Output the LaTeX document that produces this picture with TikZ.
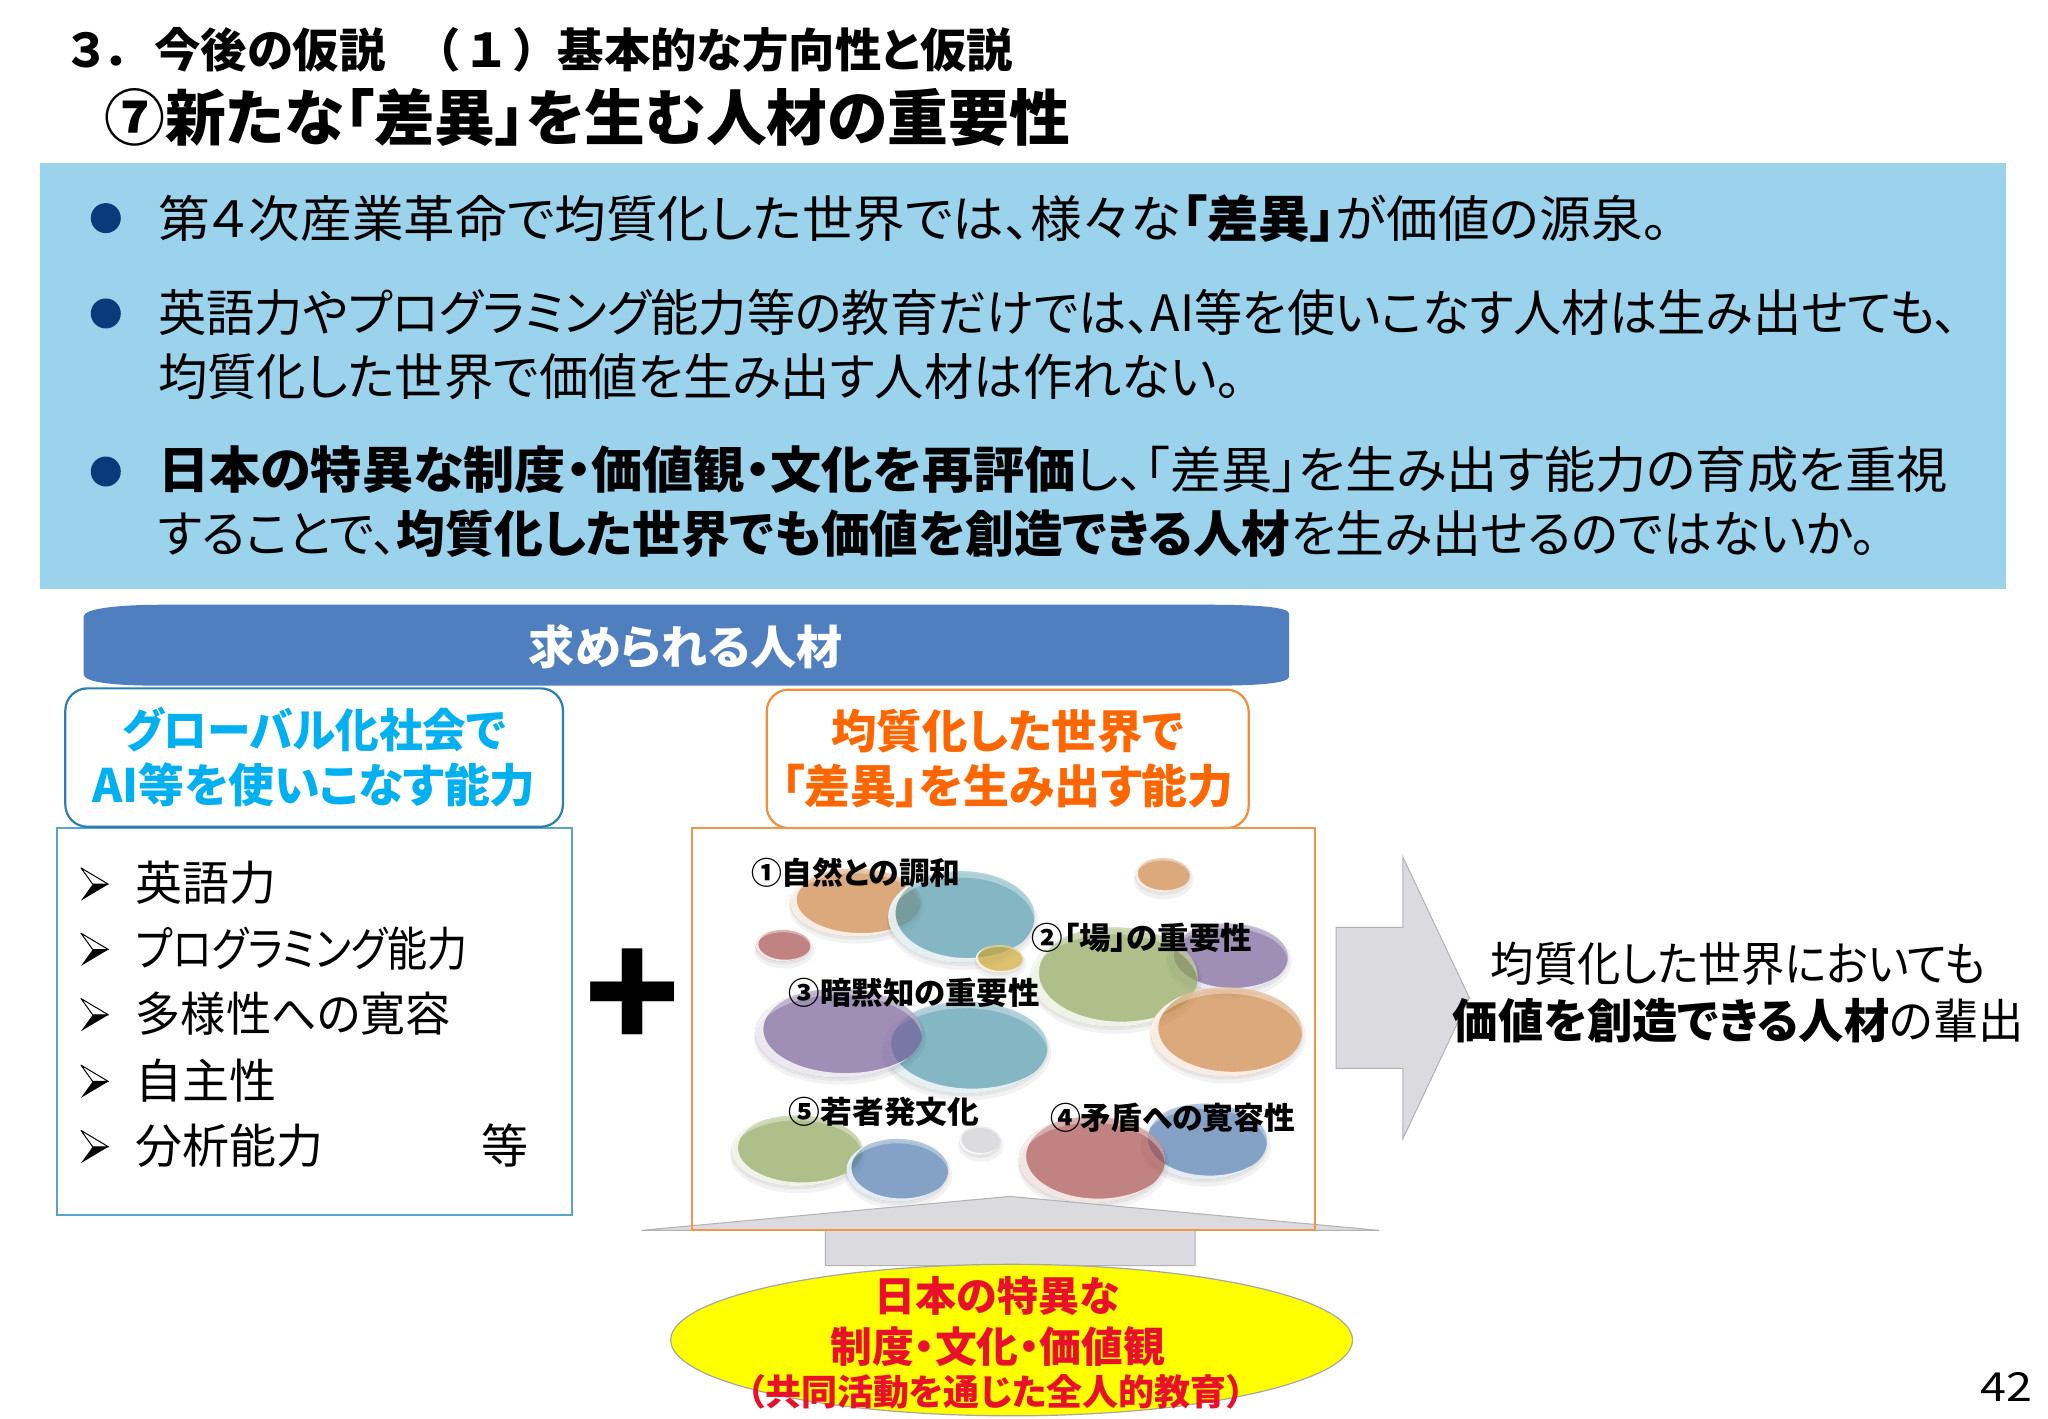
\documentclass[tikz,border=0pt]{standalone}
\usepackage{fontspec}
\usepackage{graphicx}
\usetikzlibrary{shapes.geometric}
\setmainfont{Noto Sans CJK JP}[RawFeature={+palt}]
\newcommand{\fs}[2]{\fontsize{#1}{#2}\selectfont}
\newcommand{\sx}[2]{\scalebox{#1}[1]{#2}}
\definecolor{bandblue}{HTML}{9BD3EC}
\definecolor{navy}{HTML}{0A3A7A}
\definecolor{barblue}{HTML}{4F7FBE}
\definecolor{cyantext}{HTML}{00B0F0}
\definecolor{orangetext}{HTML}{FF6600}
\definecolor{boxorange}{HTML}{F0954A}
\definecolor{capblue}{HTML}{2A7FB0}
\definecolor{boxblue}{HTML}{5BA3C9}
\definecolor{arrowgray}{HTML}{DADADF}
\definecolor{redtext}{HTML}{E8102A}
\definecolor{pureyellow}{HTML}{FFFF00}
\definecolor{bo}{HTML}{D78A47}
\definecolor{bt}{HTML}{529FB3}
\definecolor{br}{HTML}{AF514E}
\definecolor{bg}{HTML}{93AC5B}
\definecolor{bp}{HTML}{7C629F}
\definecolor{bb}{HTML}{5280B5}
\definecolor{bw}{HTML}{D8D8DC}
\definecolor{by}{HTML}{D7AF34}
\newcommand{\blob}[5]{%
  \fill[black,opacity=.05] (#1+1,#2+3.5) ellipse [x radius=#3+2,y radius=#4+2];
  \fill[black,opacity=.05] (#1+.5,#2+2) ellipse [x radius=#3+.5,y radius=#4+.5];
  \fill[#5,opacity=.66] (#1,#2) ellipse [x radius=#3,y radius=#4];
  \begin{scope}
    \clip (#1,#2) ellipse [x radius=#3,y radius=#4];
    \fill[white,opacity=.35,even odd rule] (#1-#3-5,#2-#4-5) rectangle (#1+#3+5,#2+#4+5)
      (#1,#2+.14*#4) ellipse [x radius=#3,y radius=#4];
    \fill[white,opacity=.8,even odd rule] (#1-#3-5,#2-#4-5) rectangle (#1+#3+5,#2+#4+5)
      (#1+.085*#3,#2-.085*#4) ellipse [x radius=.985*#3,y radius=.985*#4];
  \end{scope}
}
\newcommand{\tickmark}[1]{%
  \draw[black,fill=white,line width=.5pt,line join=round] (62,#1-12.5) -- (83,#1) -- (71,#1) -- cycle;
  \fill[black] (62,#1+12.5) -- (83,#1) -- (71,#1) -- cycle;
}
\tikzset{
  x=0.6531pt,y=-0.6531pt,
  plain/.style={inner sep=0pt,outer sep=0pt},
  para/.style={plain,anchor=west,align=left,font=\fs{25}{32}},
  bulletdot/.style={circle,fill=navy,minimum size=15pt,plain},
  capbox/.style={rounded corners=11pt,line width=1.1pt,fill=white,plain,align=center,font=\fs{23}{27.5}\bfseries},
  listbox/.style={draw=boxblue,line width=1pt,fill=white,plain},
  item/.style={plain,anchor=west,font=\fs{23.5}{28}},
  bloblabel/.style={plain,anchor=west,font=\fs{15.4}{18}\bfseries},
  ovaltext/.style={plain,text=redtext,font=\bfseries},
  bigarrow/.style={fill=arrowgray,draw=black!30,line width=.5pt},
}
\begin{document}
\begin{tikzpicture}
\useasboundingbox (0,0) rectangle (1568,1086);
\fill[white] (0,0) rectangle (1568,1086);
% titles
\node[plain,anchor=west,font=\fs{23.2}{26}\bfseries] (t1) at (52,38) {３\hspace{3pt}．\hspace{11pt}今後の仮説\hspace{2pt}　（\hspace{5pt}１\hspace{5pt}）\hspace{10pt}基本的な方向性と仮説};
\node[plain,anchor=west,font=\fs{30.4}{34}\bfseries] (t2) at (80,90) {⑦新たな「差異」を生む人材の重要性};
% band
\fill[bandblue] (31,125) rectangle (1536,451);
\node[bulletdot] (d1) at (81,167) {};
\node[bulletdot] (d2) at (81,240) {};
\node[bulletdot] (d3) at (81,361) {};
\node[para] (p1) at (121,167) {\sx{1.032}{第４次産業革命で均質化した世界では、様々な\textbf{「差異」}が価値の源泉。}};
\node[para] (p2) at (121,263.5) {\sx{.964}{英語力やプログラミング能力等の教育だけでは、AI等を使いこなす人材は生み出せても、}\\\sx{.987}{均質化した世界で価値を生み出す人材は作れない。}};
\node[para] (p3) at (121,384) {\sx{1.024}{\textbf{日本の特異な制度・価値観・文化を再評価}し、「差異」を生み出す能力の育成を重視}\\\sx{.975}{することで、\textbf{均質化した世界でも価値を創造できる人材}を生み出せるのではないか。}};
% bar
\fill[barblue] (64,472) .. controls (64,466) and (90,463) .. (125,463) -- (925,463) .. controls (965,463) and (987,465) .. (987,470) -- (987,518) .. controls (987,523) and (965,525) .. (925,525) -- (125,525) .. controls (90,525) and (64,523) .. (64,516) -- cycle;
\node[plain,text=white,font=\fs{23.1}{26}\bfseries] (bar) at (525,495) {求められる人材};
% left
\node[listbox,minimum width=257.3pt,minimum height=193.3pt] (lbox) at (241,782) {};
\node[capbox,draw=capblue,text=cyantext,minimum width=248.8pt,minimum height=69.2pt] (lcap) at (240.5,580) {\sx{.949}{グローバル化社会で}\\\sx{.996}{AI等を使いこなす能力}};
\tickmark{677}
\tickmark{727}
\tickmark{777}
\tickmark{828}
\tickmark{878}
\node[item] (i1) at (104,676) {英語力};
\node[item] (i2) at (104,726) {\sx{.852}{プログラミング能力}};
\node[item] (i3) at (104,776) {\sx{.96}{多様性への寛容}};
\node[item] (i4) at (104,827) {自主性};
\node[item] (i5) at (104,877) {分析能力};
\node[item] (i6) at (369,877) {等};
\node[plain,font=\fs{79}{85}\bfseries] (plus) at (484,765.5) {+};
% right
\fill[white] (530,634) rectangle (1007,942);
\node[capbox,draw=boxorange!80!orangetext,text=orangetext,minimum width=241pt,minimum height=69.2pt] (rcap) at (771.5,581) {\sx{.99}{均質化した世界で}\\\sx{1.0}{「差異」を生み出す能力}};
\blob{655}{691}{50}{26}{bo}
\blob{736}{702}{56}{35}{bt}
\blob{599.5}{724}{21}{12}{br}
\blob{765}{734}{18}{10.5}{by}
\blob{890}{670}{21}{13}{bo}
\blob{940}{733}{46}{26}{bp}
\blob{853}{748}{64}{38}{bg}
\blob{939}{790}{58}{34}{bo}
\blob{739}{802}{63}{35}{bt}
\blob{642}{791}{64}{34}{bp}
\blob{610}{881}{50}{27}{bg}
\blob{687}{896}{39}{24}{bb}
\blob{750}{873}{15.5}{11}{bw}
\blob{922}{874}{48}{29}{bb}
\blob{836}{888}{56}{33}{br}
\node[bloblabel] (l1) at (575,668) {①自然との調和};
\node[bloblabel] (l2) at (790,718) {\sx{1.024}{②「場」の重要性}};
\node[bloblabel] (l3) at (604,760) {\sx{1.02}{③暗黙知の重要性}};
\node[bloblabel] (l5) at (604,851) {\sx{1.03}{⑤若者発文化}};
\node[bloblabel] (l4) at (804,856) {④矛盾への寛容性};
% arrows
\draw[bigarrow] (1023,710) -- (1074,710) -- (1074,656) -- (1125,764) -- (1074,872) -- (1074,818) -- (1023,818) -- cycle;
\node[plain,align=center,font=\fs{23.5}{28.5}] (res) at (1331,760) {\sx{.92}{均質化した世界においても}\\\sx{.965}{\textbf{価値を創造できる人材}の輩出}};
\draw[bigarrow] (632,969) -- (632,942) -- (491,942) -- (773,916) -- (1056,942) -- (915,942) -- (915,969) -- cycle;
\draw[boxorange,line width=1pt] (530,634) rectangle (1007,942);
% ellipse
\fill[pureyellow,draw=black!35,line width=.6pt] (774.5,1026) ellipse [x radius=261,y radius=58];
\node[ovaltext,font=\fs{20.5}{25}\bfseries] (e1) at (763.5,992) {日本の特異な};
\node[ovaltext,font=\fs{20.9}{25}\bfseries] (e2) at (764,1031) {制度・文化・価値観};
\node[ovaltext,font=\fs{18}{21}\bfseries] (e3) at (762.5,1066) {（共同活動を通じた全人的教育）};
\node[plain,anchor=east,font=\fs{20}{22}] (pg) at (1556,1062) {\sx{1.17}{42}};
\end{tikzpicture}
\end{document}
